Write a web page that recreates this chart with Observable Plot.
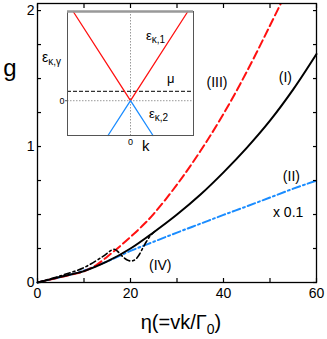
<!DOCTYPE html>
<html><head><meta charset="utf-8">
<script src="https://cdn.jsdelivr.net/npm/d3@7"></script>
<script src="https://cdn.jsdelivr.net/npm/@observablehq/plot@0.6"></script>
<style>
body{margin:0;background:#fff;}
#wrap{position:relative;width:327px;height:339px;}
#wrap svg{position:absolute;left:0;top:0;}
</style></head><body><div id="wrap"></div>
<script>
const FONT = "'Liberation Sans', Arial, Helvetica, sans-serif";

// curve (I): black solid
const etaI = [0,5,10,15,20,25,30,35,40,45,50,55,60];
const gI   = [0,0.042,0.084,0.155,0.25,0.37,0.5,0.645,0.81,0.99,1.19,1.42,1.68];
// curve (II): blue dash-dot (x 0.1)
const etaII = [0,5,10,15,20,25,30,35,40,45,50,55,60];
const gII   = [0,0.04,0.088,0.155,0.232,0.3,0.367,0.432,0.497,0.56,0.625,0.69,0.75];
// curve (III): red dashed
const etaIII = [0,2.5,5,7.5,10,12.5,15,17.5,20,22.5,25,30,35,40,45,50,53];
const gIII   = [0,0.02,0.04,0.06,0.082,0.125,0.19,0.26,0.335,0.415,0.505,0.72,0.965,1.24,1.55,1.89,2.1];
// curve (IV): black dash-dot
const etaIV = [0,5,10,14,16.5,17.5,18.5,19.3,20.2,21,21.8,22.6,23.4,24.3,25.2];
const gIV   = [0,0.05,0.11,0.19,0.245,0.22,0.185,0.165,0.158,0.168,0.2,0.25,0.3,0.345,0.375];

const xTicks = [0,10,20,30,40,50,60];
const xTickLabels = [0,20,40,60];
const yTicks = [0,0.25,0.5,0.75,1,1.25,1.5,1.75,2];
const yTickLabels = [0,1,2];

const curveNames = ["(I)","(II)","x 0.1","(III)","(IV)"];
const curveLabelEta = [53.3,54.6,53.9,38.6,26.4];
const curveLabelG = [1.51,0.778,0.513,1.473,0.123];

// inset
const insetK = [-0.91,0,0.91];
const eBand1 = [1,0,1];
const insetK2 = [-0.357,0,0.357];
const eBand2 = [-0.39,0,-0.39];
const mu = 0.105;

const zip = (xs, ys) => xs.map((x,i)=>({x, y: ys[i]}));
const fmt = d => String(d);
const none = () => "";

const main = Plot.plot({
  width:327, height:339, marginLeft:37, marginRight:11, marginTop:3, marginBottom:57,
  style:{fontFamily:FONT, fontSize:"13px", color:"black", background:"white", overflow:"visible"},
  x:{domain:[0,60]}, y:{domain:[0,2.052]},
  marks:[
    Plot.line(zip(etaII,gII), {x:"x", y:"y", stroke:"#1a8cff", strokeWidth:2, strokeDasharray:"8,3,2,3", curve:"catmull-rom"}),
    Plot.line(zip(etaIII,gIII), {x:"x", y:"y", stroke:"#ff1010", strokeWidth:2, strokeDasharray:"8,4", curve:"catmull-rom", clip:true}),
    Plot.line(zip(etaI,gI), {x:"x", y:"y", stroke:"black", strokeWidth:2, curve:"catmull-rom"}),
    Plot.line(zip(etaIV,gIV), {x:"x", y:"y", stroke:"black", strokeWidth:1.6, strokeDasharray:"6,3,2,3", curve:"catmull-rom"}),
    Plot.frame({stroke:"black", strokeWidth:1.3}),
    Plot.axisX({ticks:xTicks, tickSize:4, dy:-4, tickFormat:none, label:null, strokeWidth:1.2}),
    Plot.axisX({anchor:"top", ticks:xTicks, tickSize:4, dy:4, tickFormat:none, label:null, strokeWidth:1.2}),
    Plot.axisY({ticks:yTicks, tickSize:4, dx:4, tickFormat:none, label:null, strokeWidth:1.2}),
    Plot.axisY({anchor:"right", ticks:yTicks, tickSize:4, dx:-4, tickFormat:none, label:null, strokeWidth:1.2}),
    Plot.axisX({ticks:xTickLabels, tickSize:0, tickPadding:6, fontSize:14, tickFormat:fmt, label:null}),
    Plot.axisY({ticks:yTickLabels, tickSize:0, tickPadding:3, fontSize:14, tickFormat:fmt, label:null}),
    Plot.text(curveNames, {x:(d,i)=>curveLabelEta[i], y:(d,i)=>curveLabelG[i], text:d=>d, fontSize:14, fill:"black"})
  ]
});

const inset = Plot.plot({
  width:327, height:339, marginLeft:67, marginRight:134, marginTop:11, marginBottom:204,
  x:{domain:[-1,1]}, y:{domain:[-0.39,1]},
  style:{fontFamily:FONT, fontSize:"9px", color:"black", background:"transparent", overflow:"visible"},
  marks:[
    Plot.frame({fill:"white", stroke:null}),
    Plot.ruleX([0], {stroke:"#999", strokeDasharray:"1.5,1.5"}),
    Plot.ruleY([0], {stroke:"#999", strokeDasharray:"1.5,1.5"}),
    Plot.ruleY([mu], {stroke:"#333", strokeDasharray:"4,2", strokeWidth:1.2}),
    Plot.line(zip(insetK,eBand1), {x:"x", y:"y", stroke:"#ff1010", strokeWidth:1.3}),
    Plot.line(zip(insetK2,eBand2), {x:"x", y:"y", stroke:"#1a8cff", strokeWidth:1.3}),
    Plot.frame({stroke:"#555"}),
    Plot.ruleY([1], {stroke:"#999", strokeWidth:2.5}),
    Plot.axisY({ticks:[0], tickSize:2, tickPadding:1, fontSize:9, tickFormat:fmt, label:null, stroke:"#555"}),
    Plot.axisX({ticks:[0], tickSize:0, tickPadding:3, fontSize:9, tickFormat:fmt, label:null})
  ]
});

const wrap = document.getElementById("wrap");
wrap.appendChild(main);
wrap.appendChild(inset);

function addText(svg, x, y, parts, size, anchor){
  const t = d3.select(svg).append("text").attr("x",x).attr("y",y)
    .attr("font-family",FONT).attr("font-size",size).attr("fill","black")
    .attr("text-anchor", anchor || "start");
  parts.forEach(p => {
    const s = t.append("tspan").text(p.t);
    if (p.size) s.attr("font-size", p.size);
    if (p.dy) s.attr("dy", p.dy);
  });
}
// main axis titles
addText(main, 10, 76, [{t:"g"}], 24, "middle");
addText(main, 181, 329, [{t:"η(=vk/Γ"},{t:"0", size:14, dy:5},{t:")", dy:-5}], 20, "middle");

// inset labels
const sx = inset.scale("x"), sy = inset.scale("y");
const P = (k,e) => [sx.apply(k), sy.apply(e)];
let p;
p = P(-1.397,0.428); addText(inset, p[0], p[1], [{t:"ε"},{t:"κ,γ", size:10, dy:3}], 14);
p = P(0.254,0.675); addText(inset, p[0], p[1], [{t:"ε"},{t:"κ,1", size:10, dy:3}], 13);
p = P(0.302,-0.2); addText(inset, p[0], p[1], [{t:"ε"},{t:"κ,2", size:10, dy:3}], 13);
p = P(0.587,0.193); addText(inset, p[0], p[1], [{t:"μ"}], 13);
p = P(0.19,-0.57); addText(inset, p[0], p[1], [{t:"k"}], 15);
</script></body></html>
